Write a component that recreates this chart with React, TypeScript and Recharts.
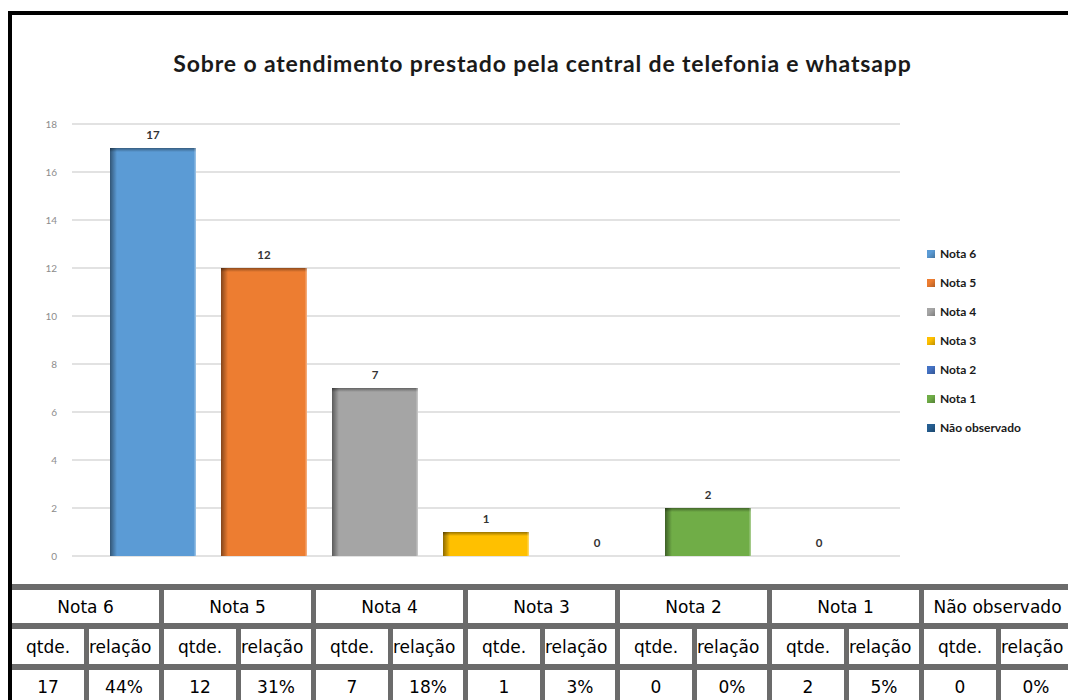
import React from 'react';
import { BarChart, Bar, XAxis, YAxis, CartesianGrid, LabelList } from 'recharts';

const SERIES = ['Nota 6', 'Nota 5', 'Nota 4', 'Nota 3', 'Nota 2', 'Nota 1', 'Não observado'];
const QTDE = [17, 12, 7, 1, 0, 2, 0];
const RELACAO = ['44%', '31%', '18%', '3%', '0%', '5%', '0%'];
const COLORS = ['#5B9BD5', '#ED7D31', '#A5A5A5', '#FFC000', '#4472C4', '#70AD47', '#255E91'];
const Y_TICKS = [0, 2, 4, 6, 8, 10, 12, 14, 16, 18];
const TITLE = 'Sobre o atendimento prestado pela central de telefonia e whatsapp';

const data = [
  SERIES.reduce((row: any, _s, i) => {
    row['k' + i] = QTDE[i];
    return row;
  }, { name: 'Atendimento' }),
];

const chartFont = 'Lato, "Open Sans", sans-serif';
const tableFont = '"DejaVu Sans", sans-serif';

// bar with darker left and top edge, like the excel bevel
const BevelBar = (props: any) => {
  const { x, y, width, height, fill } = props;
  if (!height || height <= 0) return <g />;
  return (
    <g>
      <rect x={x} y={y} width={width} height={height} fill={fill} />
      <rect x={x} y={y} width={7} height={height} fill="url(#shadeLeft)" />
      <rect x={x} y={y} width={width} height={4} fill="url(#shadeTop)" />
      <rect x={x + width - 1.5} y={y} width={1.5} height={height} fill="rgba(255,255,255,0.35)" />
    </g>
  );
};

const cell: React.CSSProperties = {
  background: '#fff',
  display: 'flex',
  alignItems: 'center',
  justifyContent: 'center',
  overflow: 'hidden',
  whiteSpace: 'nowrap',
  fontFamily: tableFont,
  fontSize: 17,
  color: '#000',
};

export default function App() {
  return (
    <div
      style={{
        position: 'fixed',
        left: 0,
        top: 0,
        width: 1068,
        height: 700,
        overflow: 'hidden',
        background: '#fff',
      }}
    >
      {/* outer frame */}
      <div
        style={{
          position: 'absolute',
          left: 8,
          top: 11,
          width: 1120,
          height: 740,
          border: '4px solid #000',
          boxSizing: 'border-box',
        }}
      />

      <div
        style={{
          position: 'absolute',
          left: 0,
          width: 1085,
          top: 49,
          textAlign: 'center',
          fontFamily: chartFont,
          fontWeight: 700,
          fontSize: 23,
          letterSpacing: 0.85,
          color: '#1a1a1a',
        }}
      >
        {TITLE}
      </div>

      <div style={{ position: 'absolute', left: 12, top: 15 }}>
        <BarChart
          width={1056}
          height={568}
          data={data}
          margin={{ top: 109, right: 168, bottom: 27, left: 0 }}
          barCategoryGap={38}
          barGap={25}
        >
          <defs>
            <linearGradient id="shadeLeft" x1="0" y1="0" x2="1" y2="0">
              <stop offset="0%" stopColor="#000" stopOpacity={0.45} />
              <stop offset="100%" stopColor="#000" stopOpacity={0} />
            </linearGradient>
            <linearGradient id="shadeTop" x1="0" y1="0" x2="0" y2="1">
              <stop offset="0%" stopColor="#000" stopOpacity={0.4} />
              <stop offset="100%" stopColor="#000" stopOpacity={0} />
            </linearGradient>
          </defs>
          <CartesianGrid vertical={false} stroke="#d9d9d9" strokeWidth={1.5} />
          <XAxis dataKey="name" hide />
          <YAxis
            width={60}
            domain={[0, 18]}
            ticks={Y_TICKS}
            axisLine={false}
            tickLine={false}
            tickMargin={9}
            tick={{ fontSize: 10, fill: '#8c8c8c', fontFamily: chartFont }}
          />
          {SERIES.map((s, i) => (
            <Bar
              key={s}
              dataKey={'k' + i}
              name={s}
              fill={COLORS[i]}
              shape={BevelBar}
              isAnimationActive={false}
            >
              <LabelList
                dataKey={'k' + i}
                position="top"
                offset={9}
                style={{ fontSize: 11.5, fontWeight: 700, fill: '#333', fontFamily: chartFont }}
              />
            </Bar>
          ))}
        </BarChart>
      </div>

      {/* legend */}
      <div style={{ position: 'absolute', left: 927, top: 239 }}>
        {SERIES.map((s, i) => (
          <div key={s} style={{ display: 'flex', alignItems: 'center', height: 29 }}>
            <div
              style={{
                width: 8,
                height: 8,
                marginRight: 5,
                background: `linear-gradient(135deg, ${COLORS[i]}, ${COLORS[i]} 40%, rgba(0,0,0,0.25))`,
                backgroundColor: COLORS[i],
              }}
            />
            <span style={{ fontFamily: chartFont, fontWeight: 700, fontSize: 12, color: '#1a1a1a' }}>{s}</span>
          </div>
        ))}
      </div>

      {/* data table */}
      <div
        style={{
          position: 'absolute',
          left: 12,
          top: 584,
          paddingTop: 6,
          background: '#6b6b6b',
          display: 'grid',
          gridTemplateColumns: 'repeat(7, 72px 70px)',
          gridTemplateRows: '33px 35px 34px',
          columnGap: 5,
          rowGap: 6,
        }}
      >
        {SERIES.map((s) => (
          <div key={'h' + s} style={{ ...cell, gridColumn: 'span 2' }}>
            {s}
          </div>
        ))}
        {SERIES.map((s) => (
          <React.Fragment key={'s' + s}>
            <div style={cell}>qtde.</div>
            <div style={{ ...cell, justifyContent: 'flex-start' }}>relação</div>
          </React.Fragment>
        ))}
        {SERIES.map((s, i) => (
          <React.Fragment key={'v' + s}>
            <div style={cell}>{QTDE[i]}</div>
            <div style={cell}>{RELACAO[i]}</div>
          </React.Fragment>
        ))}
      </div>
    </div>
  );
}
